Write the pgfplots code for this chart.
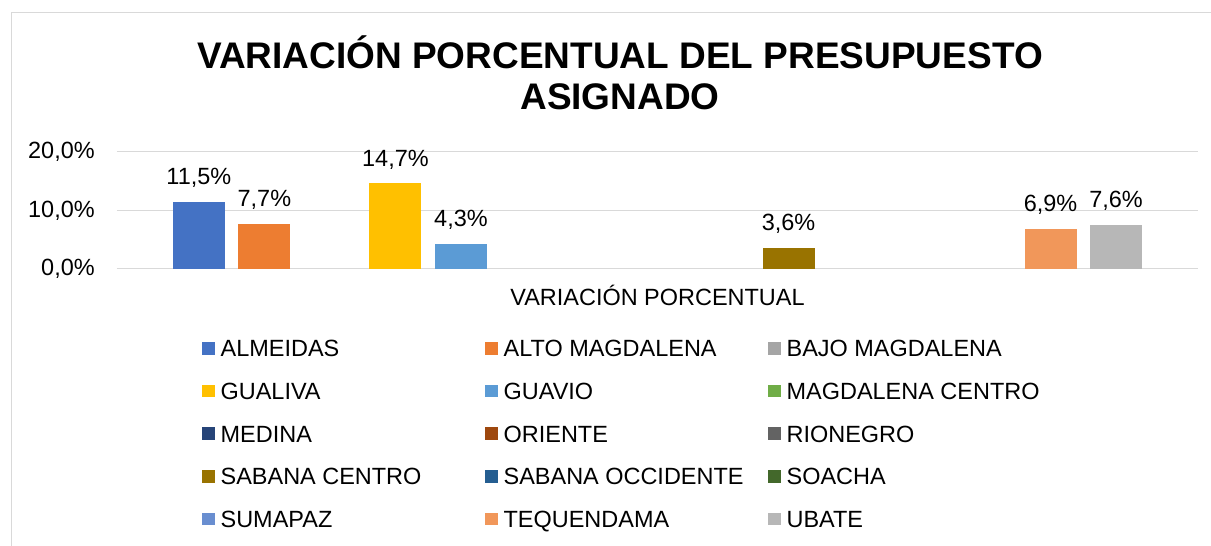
\documentclass[border=0pt]{standalone}
\usepackage{pgfplots}
\pgfplotsset{compat=1.18}
\usepackage{fontspec}
\setmainfont{Liberation Sans}
\definecolor{c1}{HTML}{4472C4}
\definecolor{c2}{HTML}{ED7D31}
\definecolor{c3}{HTML}{A5A5A5}
\definecolor{c4}{HTML}{FFC000}
\definecolor{c5}{HTML}{5B9BD5}
\definecolor{c6}{HTML}{70AD47}
\definecolor{c7}{HTML}{264478}
\definecolor{c8}{HTML}{9E480E}
\definecolor{c9}{HTML}{636363}
\definecolor{c10}{HTML}{997300}
\definecolor{c11}{HTML}{255E91}
\definecolor{c12}{HTML}{43682B}
\definecolor{c13}{HTML}{698ED0}
\definecolor{c14}{HTML}{F1975A}
\definecolor{c15}{HTML}{B7B7B7}
\definecolor{gridc}{HTML}{D9D9D9}
\pgfplotsset{
  sq/.style={legend image code/.code={\fill[##1] (0pt,-4.75pt) rectangle (9.5pt,4.75pt);}},
  b/.style={fill=#1, draw=none, bar shift=0pt, sq},
}
\newcommand{\lw}[1]{\makebox[198.4pt][l]{#1}}
\begin{document}
\fontsize{17.6pt}{21pt}\selectfont
\begin{tikzpicture}
\useasboundingbox (0,0) rectangle (908.25pt,409.5pt);
\draw[color=gridc, line width=0.75pt] (8.25pt,-2pt) -- (8.25pt,399.75pt) -- (912pt,399.75pt);
\node[anchor=base, font=\fontsize{27.75pt}{33pt}\selectfont\bfseries] at (465pt,358.3pt) {VARIACIÓN PORCENTUAL DEL PRESUPUESTO};
\node[anchor=base, font=\fontsize{27.75pt}{33pt}\selectfont\bfseries] at (465pt,327pt) {ASIGNADO};
\begin{axis}[
  at={(87.75pt,207.75pt)}, anchor=south west,
  width=810.75pt, height=87.75pt, scale only axis,
  xmin=-1.25, xmax=15.25, ymin=0, ymax=20,
  ytick={0,10,20},
  xtick={7}, xticklabels={VARIACIÓN PORCENTUAL},
  axis line style={draw=none},
  major tick length=0pt,
  ymajorgrids, grid style={color=gridc, line width=0.75pt},
  /pgf/number format/assume math mode=true,
  yticklabel={\pgfmathprintnumber[fixed,fixed zerofill,precision=1,use comma]{\tick}\%},
  yticklabel style={anchor=east, inner sep=0pt, xshift=-16.5pt},
  xticklabel style={anchor=base, inner sep=0pt, yshift=-27.4pt},
  ybar, bar width=0.794,
  nodes near coords={\pgfmathprintnumber[fixed,fixed zerofill,precision=1,use comma]{\pgfplotspointmeta}\%},
  every node near coord/.append style={anchor=base, yshift=12.75pt, inner sep=0pt, text=black},
  legend columns=3,
  legend cell align=left,
  legend style={at={(0.0788,-0.606)}, anchor=north west, draw=none, fill=none,
    inner sep=0pt, outer sep=0pt, column sep=0pt, row sep=19.4pt,
    nodes={inner sep=0pt, text height=12.6pt, text depth=0pt, anchor=west},
    /tikz/every odd column/.style={column sep=4.35pt}},
]
\addplot[b=c1] coordinates {(0,11.5)}; \addlegendentry{\lw{ALMEIDAS}}
\addplot[b=c2] coordinates {(1,7.7)}; \addlegendentry{\lw{ALTO MAGDALENA}}
\addlegendimage{b=c3} \addlegendentry{\lw{BAJO MAGDALENA}}
\addplot[b=c4] coordinates {(3,14.7)}; \addlegendentry{\lw{GUALIVA}}
\addplot[b=c5] coordinates {(4,4.3)}; \addlegendentry{\lw{GUAVIO}}
\addlegendimage{b=c6} \addlegendentry{\lw{MAGDALENA CENTRO}}
\addlegendimage{b=c7} \addlegendentry{\lw{MEDINA}}
\addlegendimage{b=c8} \addlegendentry{\lw{ORIENTE}}
\addlegendimage{b=c9} \addlegendentry{\lw{RIONEGRO}}
\addplot[b=c10] coordinates {(9,3.6)}; \addlegendentry{\lw{SABANA CENTRO}}
\addlegendimage{b=c11} \addlegendentry{\lw{SABANA OCCIDENTE}}
\addlegendimage{b=c12} \addlegendentry{\lw{SOACHA}}
\addlegendimage{b=c13} \addlegendentry{\lw{SUMAPAZ}}
\addplot[b=c14] coordinates {(13,6.9)}; \addlegendentry{\lw{TEQUENDAMA}}
\addplot[b=c15] coordinates {(14,7.6)}; \addlegendentry{\lw{UBATE}}
\end{axis}
\end{tikzpicture}
\end{document}
